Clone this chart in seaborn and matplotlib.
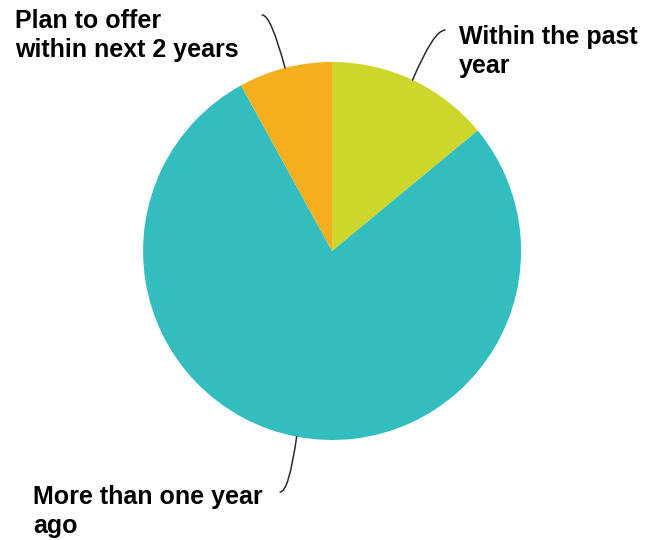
import matplotlib
matplotlib.use("Agg")
import matplotlib.pyplot as plt
import numpy as np
import seaborn as sns

# Survey shares (percent)
categories = ["Within the past year", "More than one year ago", "Plan to offer within next 2 years"]
label_text = ["Within the past\nyear", "More than one year\nago", "Plan to offer\nwithin next 2 years"]
shares = [14, 78, 8]
colors = ["#CDD62A", "#33BDBF", "#F5AF1E"]

sns.set_theme(style="white")
plt.rcParams["font.family"] = ["Liberation Sans", "DejaVu Sans"]

fig = plt.figure(figsize=(6.46, 5.40), dpi=100)
ax = fig.add_axes([0, 0, 1, 1])
wedges, _ = ax.pie(shares, colors=colors, startangle=90, counterclock=False,
                   radius=1.0, center=(0, 0),
                   wedgeprops=dict(linewidth=0))
ax.set_aspect("equal")
ax.set_xlim(-1.757, 1.661)
ax.set_ylim(-1.529, 1.328)
ax.axis("off")

# label layout: text anchor (left, last-line baseline), leader end, leader angle at the pie
label_pos = [(0.672, 0.942), (-1.582, -1.492), (-1.677, 1.026)]
leader_end = [(0.598, 1.169), (-0.275, -1.275), (-0.370, 1.249)]
leader_angle = [67, 82, 105]

for w, txt, tpos, lend, ang in zip(wedges, label_text, label_pos, leader_end, leader_angle):
    mid = np.deg2rad((w.theta1 + w.theta2) / 2)
    edge = (np.cos(mid), np.sin(mid))
    ax.annotate("", xy=edge, xytext=lend,
                arrowprops=dict(arrowstyle="-", color="#2b2b2b", lw=1.1,
                                shrinkA=0, shrinkB=0,
                                connectionstyle=f"angle3,angleA=0,angleB={ang}"))
    ax.text(tpos[0], tpos[1], txt, ha="left", va="baseline", fontsize=18,
            fontweight="bold", color="black", linespacing=1.27)

fig.savefig("out.png", dpi=100)
